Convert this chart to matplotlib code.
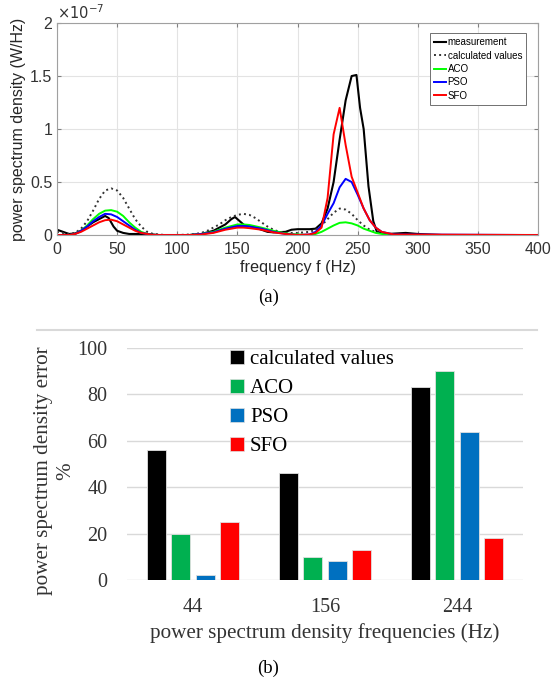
import matplotlib
matplotlib.use("Agg")
import matplotlib.pyplot as plt
from matplotlib.lines import Line2D
import numpy as np

# ---- (a) power spectrum density, values in units of 1e-7 W/Hz ----
PSD_SCALE = 1e-7

f_meas = [0, 5, 10, 15, 20, 25, 30, 35, 40, 43, 47, 50, 55, 60, 75, 85, 110, 120, 130,
          140, 145, 148, 152, 156, 160, 165, 170, 175, 180, 190, 195, 200, 210, 215,
          220, 225, 230, 235, 240, 245, 249, 252, 255, 259, 263, 266, 275, 290, 300,
          310, 320, 400]
p_meas = [0.05, 0.03, 0.01, 0.015, 0.04, 0.08, 0.12, 0.15, 0.18, 0.16, 0.08, 0.04, 0.02,
          0.01, 0.01, 0.0, 0.0, 0.01, 0.04, 0.1, 0.15, 0.17, 0.13, 0.09, 0.085, 0.07,
          0.05, 0.03, 0.025, 0.03, 0.05, 0.055, 0.055, 0.06, 0.11, 0.25, 0.5, 0.9, 1.27,
          1.5, 1.51, 1.2, 1.0, 0.46, 0.13, 0.03, 0.01, 0.02, 0.01, 0.005, 0.0, 0.0]

f_calc = [0, 5, 10, 15, 20, 25, 30, 35, 40, 45, 50, 55, 60, 65, 70, 75, 80, 90, 100, 110,
          115, 120, 125, 130, 135, 140, 145, 150, 155, 160, 165, 170, 175, 180, 185, 190,
          200, 210, 215, 220, 225, 230, 235, 240, 245, 250, 255, 260, 265, 270, 280, 290,
          400]
p_calc = [0.03, 0.02, 0.01, 0.02, 0.06, 0.13, 0.23, 0.34, 0.42, 0.44, 0.42, 0.35, 0.25,
          0.15, 0.08, 0.03, 0.01, 0.0, 0.0, 0.005, 0.01, 0.02, 0.04, 0.07, 0.1, 0.14, 0.17,
          0.19, 0.2, 0.19, 0.16, 0.12, 0.08, 0.05, 0.03, 0.02, 0.02, 0.03, 0.05, 0.09,
          0.15, 0.21, 0.25, 0.24, 0.2, 0.14, 0.09, 0.05, 0.03, 0.015, 0.005, 0.0, 0.0]

f_opt = [0, 10, 15, 20, 25, 30, 35, 40, 45, 50, 55, 60, 65, 70, 75, 80, 110, 120, 130, 140,
         150, 155, 160, 170, 180, 190, 200, 210, 215, 220, 225, 230, 235, 240, 245, 250,
         255, 260, 265, 270, 280, 400]
p_aco = [0.0, 0.0, 0.01, 0.04, 0.09, 0.15, 0.2, 0.23, 0.235, 0.22, 0.18, 0.12, 0.07, 0.03,
         0.01, 0.0, 0.0, 0.01, 0.03, 0.07, 0.1, 0.1, 0.095, 0.07, 0.04, 0.015, 0.005, 0.0,
         0.01, 0.03, 0.06, 0.09, 0.115, 0.12, 0.11, 0.09, 0.06, 0.04, 0.02, 0.01, 0.0, 0.0]
p_pso = [0.0, 0.0, 0.01, 0.04, 0.08, 0.13, 0.17, 0.2, 0.195, 0.17, 0.13, 0.09, 0.05, 0.02,
         0.01, 0.0, 0.0, 0.01, 0.025, 0.06, 0.085, 0.085, 0.08, 0.06, 0.03, 0.01, 0.0,
         0.005, 0.03, 0.09, 0.2, 0.3, 0.45, 0.53, 0.5, 0.38, 0.25, 0.14, 0.07, 0.03, 0.005,
         0.0]
p_sfo = [0.0, 0.0, 0.01, 0.03, 0.06, 0.09, 0.12, 0.14, 0.145, 0.13, 0.1, 0.07, 0.04, 0.02,
         0.01, 0.0, 0.0, 0.005, 0.02, 0.05, 0.07, 0.07, 0.065, 0.05, 0.025, 0.01, 0.0,
         0.005, 0.02, 0.07, 0.35, 0.95, 1.2, 0.85, 0.55, 0.4, 0.25, 0.14, 0.07, 0.03, 0.005,
         0.0]

# ---- (b) error bars ----
freq_labels = ["44", "156", "244"]
err_calc = [56, 46, 83]
err_aco = [20, 10, 90]
err_pso = [2, 8, 64]
err_sfo = [25, 13, 18]

fig = plt.figure(figsize=(5.59, 6.86), dpi=100)
fig.patch.set_facecolor("white")

# ================= (a) =================
ax = fig.add_axes([0.102, 0.6574, 0.8605, 0.309])
sans = "Liberation Sans"
ax.plot(f_meas, np.array(p_meas) * PSD_SCALE, color="black", lw=1.5, label="measurement")
ax.plot(f_calc, np.array(p_calc) * PSD_SCALE, color="#333333", lw=1.4, ls=":",
        label="calculated values")
ax.plot(f_opt, np.array(p_aco) * PSD_SCALE, color="#00ff00", lw=1.4, label="ACO")
ax.plot(f_opt, np.array(p_pso) * PSD_SCALE, color="#0000ff", lw=1.4, label="PSO")
ax.plot(f_opt, np.array(p_sfo) * PSD_SCALE, color="#ff0000", lw=1.4, label="SFO")
ax.set_xlim(0, 400)
ax.set_ylim(0, 2e-7)
ax.set_xticks(np.arange(0, 401, 50))
ax.set_yticks([0, 0.5e-7, 1e-7, 1.5e-7, 2e-7])
ax.set_yticklabels(["0", "0.5", "1", "1.5", "2"])
ax.grid(True, color="#e3e3e3", lw=0.8)
ax.set_axisbelow(True)
for s in ax.spines.values():
    s.set_color("#a0a0a0")
    s.set_linewidth(0.8)
ax.tick_params(direction="in", length=3, color="#808080", labelsize=11.5,
               labelcolor="#333333", top=True, right=True)
ax.tick_params(axis="x", pad=5)
for lab in ax.get_xticklabels() + ax.get_yticklabels():
    lab.set_family(sans)
ax.text(0.0, 1.005, r"$\times10^{-7}$", transform=ax.transAxes, fontsize=10.5,
        family=sans, color="#333333", va="bottom", ha="left")
ax.set_xlabel("frequency f (Hz)", family=sans, fontsize=11.7, color="#262626", labelpad=2)
ax.set_ylabel("power spectrum density (W/Hz)", family=sans, fontsize=11.5,
              color="#262626", labelpad=3)
leg = ax.legend(loc="upper right", bbox_to_anchor=(0.985, 0.975), handlelength=1.2,
                handletextpad=0.2, borderpad=0.4, labelspacing=0.35, fancybox=False,
                framealpha=1, edgecolor="#707070", prop={"family": sans, "size": 7})
leg.get_frame().set_linewidth(0.7)

fig.text(0.48, 1 - 297 / 686, "(a)", ha="center", va="center",
         family="Liberation Serif", fontsize=13.5)

# ================= (b) =================
fig.add_artist(Line2D([37 / 559, 537 / 559], [1 - 330 / 686, 1 - 330 / 686],
                      color="#d9d9d9", lw=1.5))

bx = fig.add_axes([0.2272, 0.1545, 0.7084, 0.3382])
serif = "Liberation Serif"
x = np.arange(len(freq_labels))
w = 0.144
step = 0.184
series = [(err_calc, "#000000", "calculated values"),
          (err_aco, "#00b050", "ACO"),
          (err_pso, "#0070c0", "PSO"),
          (err_sfo, "#ff0000", "SFO")]
for i, (vals, col, lab) in enumerate(series):
    bx.bar(x + (i - 1.5) * step, vals, width=w, color=col, edgecolor="#e0e0e0",
           linewidth=0.6, zorder=3)
bx.set_xlim(-0.5, 2.5)
bx.set_ylim(0, 100)
bx.set_yticks(np.arange(0, 101, 20))
bx.set_xticks(x)
bx.set_xticklabels(freq_labels)
bx.grid(True, axis="y", color="#d9d9d9", lw=1.0, zorder=0)
for s in bx.spines.values():
    s.set_visible(False)
bx.tick_params(length=0, labelsize=14.5, labelcolor="#333333")
bx.tick_params(axis="x", pad=13)
bx.tick_params(axis="y", pad=14)
for lab in bx.get_xticklabels() + bx.get_yticklabels():
    lab.set_family(serif)
bx.set_xlabel("power spectrum density frequencies (Hz)", family=serif, fontsize=15.2,
              color="#333333", labelpad=4)
bx.set_ylabel("power spectrum density error\n%", family=serif, fontsize=15.2,
              color="#333333", linespacing=1.25)
bx.yaxis.set_label_coords(-0.13, 0.47)

handles = [Line2D([], [], marker="s", ls="none", markersize=9.5, color=col,
                  markeredgecolor="#e0e0e0", markeredgewidth=0.5)
           for _, col, _ in series]
bx.legend(handles, [s[2] for s in series], loc="upper left",
          bbox_to_anchor=(0.2, 1.075), frameon=False, handletextpad=0.0,
          labelspacing=0.45, prop={"family": serif, "size": 15}, handlelength=1.2)

fig.text(0.48, 1 - 668 / 686, "(b)", ha="center", va="center",
         family=serif, fontsize=13.5)

fig.savefig("out.png", dpi=100, facecolor="white")
